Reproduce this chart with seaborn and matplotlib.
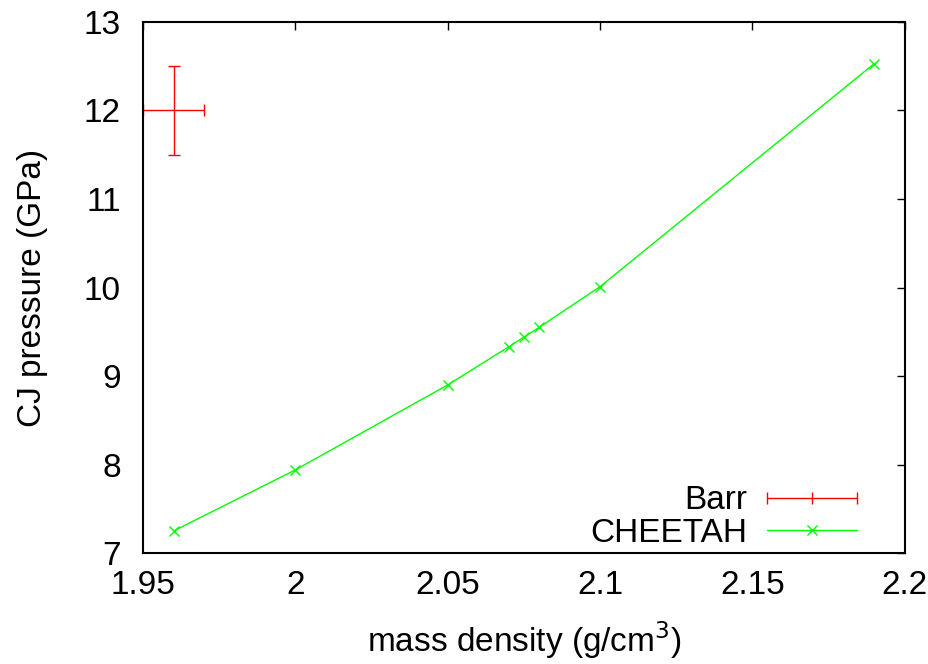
import matplotlib
matplotlib.use("Agg")
import matplotlib.pyplot as plt
import seaborn as sns
import pandas as pd
from matplotlib.lines import Line2D
from matplotlib.legend_handler import HandlerLine2D

# data
cheetah_density = [1.96, 2.00, 2.05, 2.07, 2.075, 2.08, 2.10, 2.19]
cheetah_pressure = [7.25, 7.94, 8.90, 9.33, 9.44, 9.55, 10.01, 12.53]
barr_density = [1.96]
barr_pressure = [12.0]
barr_density_err = [0.01]
barr_pressure_err = [0.5]
xticks = [1.95, 2.0, 2.05, 2.1, 2.15, 2.2]
xticklabels = ["1.95", "2", "2.05", "2.1", "2.15", "2.2"]
yticks = [7, 8, 9, 10, 11, 12, 13]

sns.set_theme(style="white")
plt.rcParams['font.family'] = ['Liberation Sans', 'DejaVu Sans']
plt.rcParams['text.color'] = 'black'
plt.rcParams['axes.labelcolor'] = 'black'

fig = plt.figure(figsize=(9.29, 6.64), dpi=100)
ax = fig.add_axes([0.154, 0.167, 0.820, 0.800])

red = "#ff0000"
green = "#00ff00"
fs = 24

ax.errorbar(barr_density, barr_pressure, xerr=barr_density_err, yerr=barr_pressure_err,
            fmt='none', ecolor=red, elinewidth=1.0, capsize=4, capthick=1.0)

df = pd.DataFrame({"density": cheetah_density, "pressure": cheetah_pressure})
sns.lineplot(data=df, x="density", y="pressure", ax=ax, color=green, marker='x',
             markersize=7, markeredgewidth=1.0, markeredgecolor=green, linewidth=1.0,
             sort=False, legend=False)

ax.set_xlim(1.95, 2.2)
ax.set_ylim(7, 13)
ax.set_xticks(xticks)
ax.set_xticklabels(xticklabels)
ax.set_yticks(yticks)
ax.tick_params(axis='both', direction='in', length=6, width=1, top=True, right=True,
               labelsize=fs, colors='black')
ax.tick_params(axis='x', pad=12)
ax.tick_params(axis='y', pad=16)
for s in ax.spines.values():
    s.set_linewidth(1.5)
    s.set_color('black')

ax.set_xlabel("mass density (g/cm$^3$)", fontsize=fs, labelpad=13)
ax.set_ylabel("CJ pressure (GPa)", fontsize=fs, labelpad=26)

h_barr = Line2D([], [], color=red, lw=1.0, marker='|', markersize=9, markeredgewidth=1.0)
h_ch = Line2D([], [], color=green, lw=1.0, marker='x', markersize=7, markeredgewidth=1.0)
leg = ax.legend([h_barr, h_ch], ["Barr", "CHEETAH"], loc='lower right',
                bbox_to_anchor=(0.937, 0.008),
                handler_map={h_barr: HandlerLine2D(numpoints=3, marker_pad=0.0),
                             h_ch: HandlerLine2D(numpoints=1)},
                markerfirst=False, frameon=False, fontsize=fs, handlelength=2.7,
                handletextpad=0.6, labelspacing=0.05, borderaxespad=0.0,
                borderpad=0.0)

fig.savefig("out.png", dpi=100)
